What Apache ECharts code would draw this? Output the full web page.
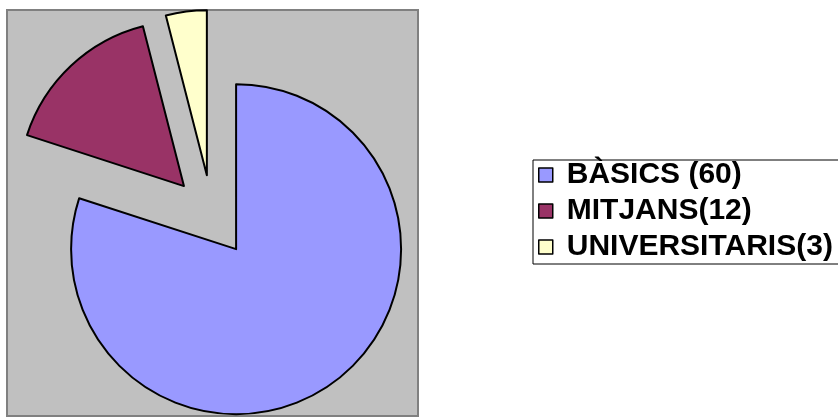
<!DOCTYPE html>
<html>
<head>
<meta charset="utf-8">
<script src="https://cdn.jsdelivr.net/npm/echarts@6/dist/echarts.min.js"></script>
<style>html,body{margin:0;padding:0;background:#fff;}#c{width:838px;height:419px;}</style>
</head>
<body>
<div id="c"></div>
<script>
const categories = ['BÀSICS (60)', 'MITJANS(12)', 'UNIVERSITARIS(3)'];
const values = [60, 12, 3];
const colors = ['#9999FF', '#993366', '#FFFFCC'];

const chart = echarts.init(document.getElementById('c'), null, {renderer: 'canvas'});
chart.setOption({
  animation: false,
  backgroundColor: '#ffffff',
  graphic: [{
    type: 'rect', z: 0, silent: true,
    shape: {x: 7, y: 10, width: 411, height: 406},
    style: {fill: '#C0C0C0', stroke: '#808080', lineWidth: 2}
  }],
  legend: {
    orient: 'vertical',
    left: 533, top: 160,
    backgroundColor: '#ffffff',
    borderColor: '#000000', borderWidth: 1,
    padding: [0, 60, 2, 5],
    itemWidth: 14, itemHeight: 14, itemGap: 6,
    icon: 'rect',
    selectedMode: false,
    itemStyle: {borderColor: '#000', borderWidth: 1.5},
    textStyle: {fontFamily: 'Liberation Sans, Arial, sans-serif', fontWeight: 'bold', fontSize: 30, lineHeight: 30, color: '#000', padding: [0, 0, 0, 9]},
    data: categories
  },
  series: [{
    type: 'pie',
    z: 2,
    center: [212, 216],
    radius: 165,
    startAngle: 90,
    clockwise: true,
    selectedMode: 'multiple',
    selectedOffset: 41,
    label: {show: false},
    labelLine: {show: false},
    emphasis: {disabled: true},
    silent: true,
    itemStyle: {borderColor: '#000', borderWidth: 2},
    data: categories.map((c, i) => ({name: c, value: values[i], selected: true, itemStyle: {color: colors[i]}}))
  }]
});
</script>
</body>
</html>
